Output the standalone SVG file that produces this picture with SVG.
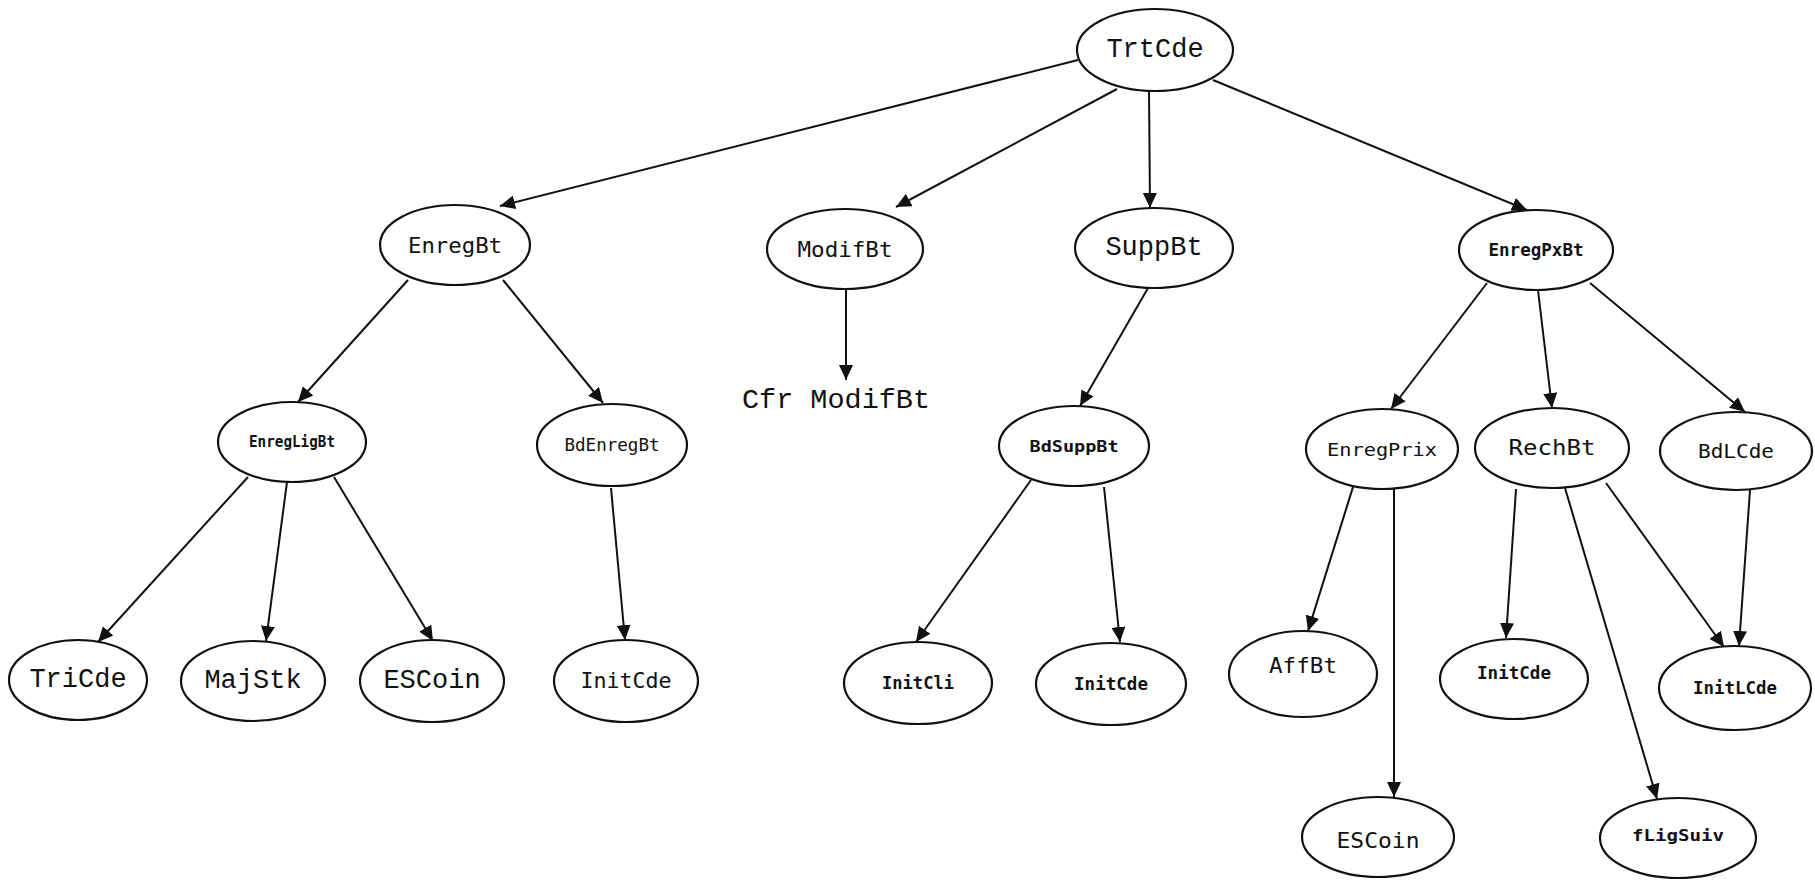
<svg xmlns="http://www.w3.org/2000/svg" width="1815" height="886" viewBox="0 0 1815 886">
  <style>
    .node ellipse { fill: #ffffff; stroke: #111111; stroke-width: 2.2; }
    .mono { font-family: "Liberation Mono", "Courier New", monospace; font-size: 27px; fill: #111111; }
    .sans { font-family: "DejaVu Sans Mono", "Liberation Mono", monospace; fill: #111111; }
    .small { font-weight: bold; }
    text { text-anchor: middle; dominant-baseline: central; }
    .edges line { stroke: #111111; stroke-width: 2; marker-end: url(#arrow); }
  </style>
  <defs>
    <marker id="arrow" markerUnits="userSpaceOnUse" markerWidth="16" markerHeight="14" refX="15" refY="7" orient="auto">
      <path d="M0,0 L15,7 L0,14 z" fill="#111111"/>
    </marker>
  </defs>
  <rect width="1815" height="886" fill="#ffffff"/>

  <!-- call edges -->
  <g id="edges" class="edges">
    <line x1="1078" y1="60" x2="500" y2="206"/>
    <line x1="1117" y1="89" x2="896" y2="207"/>
    <line x1="1149" y1="91" x2="1150" y2="208"/>
    <line x1="1213" y1="80" x2="1527" y2="210"/>
    <line x1="408" y1="280" x2="298" y2="402"/>
    <line x1="503" y1="280" x2="603" y2="403"/>
    <line x1="846" y1="290" x2="846" y2="380"/>
    <line x1="1148" y1="288" x2="1080" y2="406"/>
    <line x1="1487" y1="283" x2="1391" y2="409"/>
    <line x1="1538" y1="290" x2="1552" y2="408"/>
    <line x1="1590" y1="283" x2="1745" y2="412"/>
    <line x1="248" y1="477" x2="98" y2="642"/>
    <line x1="287" y1="482" x2="266" y2="641"/>
    <line x1="334" y1="477" x2="433" y2="641"/>
    <line x1="611" y1="488" x2="625" y2="640"/>
    <line x1="1031" y1="480" x2="916" y2="642"/>
    <line x1="1104" y1="487" x2="1120" y2="642"/>
    <line x1="1353" y1="487" x2="1308" y2="631"/>
    <line x1="1394" y1="488" x2="1394" y2="797"/>
    <line x1="1516" y1="489" x2="1506" y2="638"/>
    <line x1="1565" y1="488" x2="1657" y2="799"/>
    <line x1="1606" y1="483" x2="1724" y2="647"/>
    <line x1="1750" y1="490" x2="1739" y2="646"/>
  </g>

  <!-- level 0 -->
  <g id="TrtCde" class="node"><ellipse cx="1155" cy="50" rx="78" ry="41"/><text class="mono" x="1155" y="50">TrtCde</text></g>

  <!-- level 1 -->
  <g id="EnregBt" class="node"><ellipse cx="455" cy="245" rx="75" ry="40"/><text class="sans" x="455" y="245" font-size="22" textLength="94" lengthAdjust="spacingAndGlyphs">EnregBt</text></g>
  <g id="ModifBt" class="node"><ellipse cx="845" cy="249" rx="78" ry="40"/><text class="sans" x="845" y="249" font-size="22" textLength="95" lengthAdjust="spacingAndGlyphs">ModifBt</text></g>
  <g id="SuppBt" class="node"><ellipse cx="1154" cy="248" rx="79" ry="40"/><text class="mono" x="1154" y="248">SuppBt</text></g>
  <g id="EnregPxBt" class="node"><ellipse cx="1536" cy="250" rx="77" ry="40"/><text class="sans small" x="1536" y="250" font-size="17" textLength="95" lengthAdjust="spacingAndGlyphs">EnregPxBt</text></g>

  <!-- level 2 -->
  <g id="EnregLigBt" class="node"><ellipse cx="292" cy="442" rx="74" ry="40"/><text class="sans small" x="292" y="442" font-size="15" textLength="86" lengthAdjust="spacingAndGlyphs">EnregLigBt</text></g>
  <g id="BdEnregBt" class="node"><ellipse cx="612" cy="445" rx="75" ry="41"/><text class="sans" x="612" y="445" font-size="17" textLength="95" lengthAdjust="spacingAndGlyphs">BdEnregBt</text></g>
  <g id="CfrModifBt"><text class="mono" x="836" y="401" textLength="188" lengthAdjust="spacingAndGlyphs">Cfr ModifBt</text></g>
  <g id="BdSuppBt" class="node"><ellipse cx="1074" cy="446" rx="75" ry="40"/><text class="sans small" x="1074" y="446" font-size="16" textLength="89" lengthAdjust="spacingAndGlyphs">BdSuppBt</text></g>
  <g id="EnregPrix" class="node"><ellipse cx="1382" cy="449" rx="76" ry="40"/><text class="sans" x="1382" y="449" font-size="18" textLength="110" lengthAdjust="spacingAndGlyphs">EnregPrix</text></g>
  <g id="RechBt" class="node"><ellipse cx="1552" cy="448" rx="77" ry="40"/><text class="sans" x="1552" y="448" font-size="21" textLength="87" lengthAdjust="spacingAndGlyphs">RechBt</text></g>
  <g id="BdLCde" class="node"><ellipse cx="1736" cy="451" rx="76" ry="39"/><text class="sans" x="1736" y="451" font-size="20" textLength="76" lengthAdjust="spacingAndGlyphs">BdLCde</text></g>

  <!-- level 3 -->
  <g id="TriCde" class="node"><ellipse cx="78" cy="680" rx="69" ry="40"/><text class="mono" x="78" y="680">TriCde</text></g>
  <g id="MajStk" class="node"><ellipse cx="253" cy="681" rx="72" ry="40"/><text class="mono" x="253" y="681">MajStk</text></g>
  <g id="ESCoin" class="node"><ellipse cx="432" cy="681" rx="72" ry="41"/><text class="mono" x="432" y="681">ESCoin</text></g>
  <g id="InitCde" class="node"><ellipse cx="626" cy="681" rx="72" ry="41"/><text class="sans" x="626" y="681" font-size="21" textLength="91" lengthAdjust="spacingAndGlyphs">InitCde</text></g>
  <g id="InitCli" class="node"><ellipse cx="918" cy="683" rx="74" ry="41"/><text class="sans small" x="918" y="683" font-size="17" textLength="72" lengthAdjust="spacingAndGlyphs">InitCli</text></g>
  <g id="InitCde-2" class="node"><ellipse cx="1111" cy="684" rx="75" ry="41"/><text class="sans small" x="1111" y="684" font-size="17" textLength="74" lengthAdjust="spacingAndGlyphs">InitCde</text></g>
  <g id="AffBt" class="node"><ellipse cx="1303" cy="674" rx="74" ry="43"/><text class="sans" x="1303" y="666" font-size="21" textLength="68" lengthAdjust="spacingAndGlyphs">AffBt</text></g>
  <g id="InitCde-3" class="node"><ellipse cx="1514" cy="679" rx="74" ry="40"/><text class="sans small" x="1514" y="673" font-size="17" textLength="74" lengthAdjust="spacingAndGlyphs">InitCde</text></g>
  <g id="InitLCde" class="node"><ellipse cx="1735" cy="688" rx="76" ry="42"/><text class="sans small" x="1735" y="688" font-size="17" textLength="84" lengthAdjust="spacingAndGlyphs">InitLCde</text></g>

  <!-- level 4 -->
  <g id="ESCoin-2" class="node"><ellipse cx="1378" cy="837" rx="76" ry="40"/><text class="sans" x="1378" y="840" font-size="22" textLength="83" lengthAdjust="spacingAndGlyphs">ESCoin</text></g>
  <g id="fLigSuiv" class="node"><ellipse cx="1678" cy="838" rx="78" ry="40"/><text class="sans small" x="1678" y="835" font-size="16" textLength="92" lengthAdjust="spacingAndGlyphs">fLigSuiv</text></g>
</svg>
